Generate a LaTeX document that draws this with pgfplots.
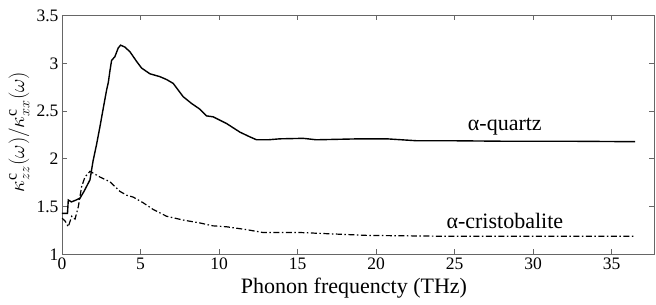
\documentclass[border=0pt]{standalone}
\usepackage{fontspec}
\setmainfont{Liberation Serif}
\usepackage{pgfplots}
\pgfplotsset{compat=1.18}
\begin{document}
\begin{tikzpicture}
\begin{axis}[
  scale only axis,
  width=592pt, height=239pt,
  xmin=0, xmax=37.7, ymin=1, ymax=3.5,
  xtick={0,5,...,35}, ytick={1,1.5,2,2.5,3,3.5},
  tick pos=both, tick align=inside,
  xticklabel pos=bottom, yticklabel pos=left,
  major tick length=5pt,
  axis line style={draw=black!60, line width=0.9pt},
  every tick/.style={draw=black!60, line width=0.8pt},
  /pgf/number format/assume math mode=true,
  xticklabel style={font=\fontsize{17.5}{20}\selectfont},
  yticklabel style={font=\fontsize{17.5}{20}\selectfont},
  xlabel={Phonon frequencty (THz)},
  ylabel={$\kappa^{\mathrm{c}}_{zz}(\omega)/\kappa^{\mathrm{c}}_{xx}(\omega)$},
  every axis x label/.style={at={(rel axis cs:0.5,0)}, anchor=base, yshift=-38.8pt, xshift=-4pt, font=\fontsize{22}{24}\selectfont},
  every axis y label/.style={at={(rel axis cs:0,0.5)}, anchor=center, rotate=90, yshift=43pt, xshift=3pt, font=\fontsize{22.5}{25}\selectfont},
]
\addplot[black, line width=1.4pt] coordinates {
(0.0,1.43) (0.35,1.43) (0.4,1.57) (0.6,1.55) (0.9,1.57) (1.15,1.59) (1.4,1.66) (1.78,1.78) (1.98,1.98)
(2.2,2.15) (2.42,2.34) (2.65,2.55) (2.84,2.72) (2.95,2.80) (3.06,2.93) (3.16,3.03) (3.37,3.07)
(3.58,3.16) (3.73,3.19) (4.0,3.17) (4.33,3.12) (4.75,3.02) (5.07,2.95) (5.6,2.89) (6.24,2.86)
(6.66,2.83) (7.08,2.79) (7.4,2.72) (7.72,2.65) (8.25,2.58) (8.78,2.52) (9.2,2.45) (9.63,2.44)
(10.48,2.37) (11.33,2.28) (11.97,2.23) (12.39,2.20) (13.13,2.20) (13.88,2.21) (15.36,2.215)
(16.2,2.20) (18.97,2.21) (20.67,2.21) (22.57,2.19) (24.7,2.19) (28,2.185) (32,2.185) (36.5,2.18)
};
\addplot[black, line width=1.2pt, dash pattern=on 6pt off 2.5pt on 1.5pt off 2.5pt] coordinates {
(0.0,1.38) (0.2,1.35) (0.4,1.29) (0.62,1.40) (0.83,1.37) (1.04,1.50) (1.25,1.71) (1.46,1.81)
(1.78,1.87) (2.42,1.81) (3.06,1.76) (3.69,1.66) (4.12,1.62) (4.54,1.60) (5.18,1.54) (5.82,1.47)
(6.66,1.40) (7.72,1.36) (8.78,1.33) (9.6,1.30) (10.48,1.29) (11.75,1.26) (12.8,1.23) (15.15,1.23)
(19.4,1.20) (24.7,1.19) (30,1.19) (36.5,1.19)
};
\node[font=\fontsize{22}{24}\selectfont, anchor=base] at (axis cs:28.2,2.302) {α-quartz};
\node[font=\fontsize{22}{24}\selectfont, anchor=base] at (axis cs:28.2,1.277) {α-cristobalite};
\end{axis}
\pgfresetboundingbox
\path (current axis.south west) ++(-62pt,-50.5pt) coordinate (bl);
\path (current axis.north east) ++(2pt,15.5pt) coordinate (tr);
\path (bl) rectangle (tr);
\end{tikzpicture}
\end{document}
